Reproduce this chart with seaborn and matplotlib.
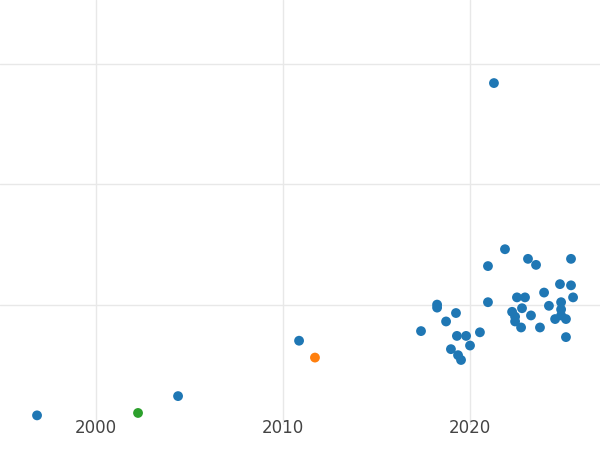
import numpy as np
import pandas as pd
import matplotlib
matplotlib.use("Agg")
import matplotlib.pyplot as plt
import seaborn as sns

sns.set_theme(style="whitegrid")

# values
years = [1996.85, 2004.39, 2010.86, 2021.28, 2017.38, 2018.24, 2018.24, 2018.72, 2019.25,
         2018.98, 2019.30, 2019.36, 2019.52, 2019.79, 2020.00, 2020.53, 2020.96, 2020.96,
         2021.87, 2022.25, 2022.41, 2022.41, 2022.51, 2022.73, 2022.78, 2022.94, 2023.10,
         2023.26, 2023.53, 2023.74, 2023.96, 2024.22, 2024.55, 2024.81, 2024.87, 2024.87,
         2024.87, 2025.13, 2025.13, 2025.40, 2025.40, 2025.51,
         2011.71, 2002.25]
values = [0.08, 0.24, 0.70, 2.84, 0.78, 1.00, 0.975, 0.86, 0.93,
          0.63, 0.74, 0.58, 0.54, 0.74, 0.66, 0.77, 1.32, 1.02,
          1.46, 0.94, 0.90, 0.86, 1.06, 0.81, 0.97, 1.06, 1.38,
          0.91, 1.33, 0.81, 1.10, 0.99, 0.88, 1.17, 1.02, 0.96,
          0.91, 0.88, 0.73, 1.38, 1.16, 1.06,
          0.56, 0.10]
groups = ["a"] * 42 + ["b", "c"]

df = pd.DataFrame({"year": years, "value": values, "group": groups})

fig = plt.figure(figsize=(6, 4.5), dpi=100)
ax = fig.add_axes([0, 25 / 450, 1, 425 / 450])
sns.scatterplot(data=df, x="year", y="value", hue="group",
                palette=["#1f77b4", "#ff7f0e", "#2ca02c"],
                s=50, edgecolor="none", legend=False, ax=ax, clip_on=False)
ax.set_xlim(1994.87, 2026.95)
ax.set_ylim(0.0, 3.53)
ax.set_xticks([2000, 2010, 2020])
ax.set_yticks([1, 2, 3])
ax.set_yticklabels([])
ax.tick_params(axis="x", labelsize=12, labelcolor="#444444", pad=-4, length=0)
ax.tick_params(axis="y", length=0)
ax.set_xlabel("")
ax.set_ylabel("")
ax.grid(color="#e8e8e8", linewidth=1)
for s in ax.spines.values():
    s.set_visible(False)
fig.savefig("out.png", dpi=100, facecolor="white")
